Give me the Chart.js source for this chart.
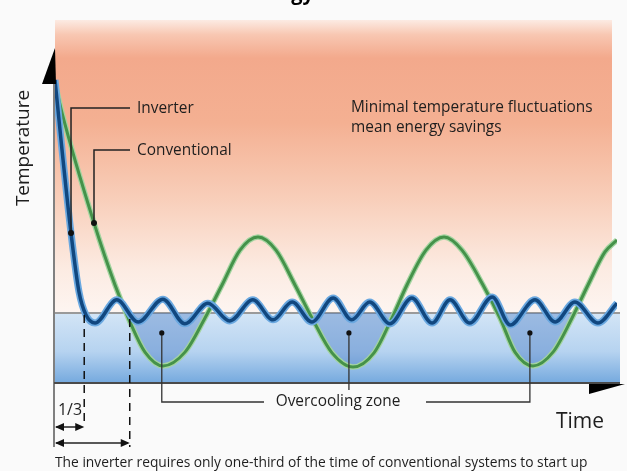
<!DOCTYPE html>
<html>
<head>
<meta charset="utf-8">
<script src="https://cdn.jsdelivr.net/npm/chart.js@4.4.1/dist/chart.umd.min.js"></script>
<style>
  html, body { margin: 0; padding: 0; background: #fafafa; }
  #wrap { width: 627px; height: 471px; position: relative; }
</style>
</head>
<body>
<div id="wrap"><canvas id="chart"></canvas></div>
<script>
// inverter (blue) - quick drop, then small ripple around the set point
const invTime = [0, 1.25, 2.85, 4.27, 5.52, 7.12, 11.0, 14.8, 19.2, 23.1, 27.2, 31.1, 35.2, 38.8, 42.2, 45.7,
  49.5, 52.8, 56.0, 59.6, 63.5, 67.1, 70.3, 73.8, 77.8, 81.0, 85.4, 89.0, 92.5, 96.6, 100];
const invTemp = [83.5, 64.2, 41.3, 25.1, 18.7, 16.5, 22.9, 16.8, 23.1, 16.3, 22.0, 17.1, 22.9, 17.4, 22.3, 16.8,
  23.4, 17.4, 22.3, 16.3, 23.4, 16.5, 22.9, 16.5, 23.7, 16.0, 22.9, 16.8, 22.3, 16.5, 22.0];

// conventional (green) - slow drop, big swings
const convTime = [0, 1.25, 6.94, 10.68, 13.35, 16.01, 19.22, 23.13, 26.69, 29.72, 32.92, 36.12, 39.32, 42.70,
  45.73, 49.29, 53.02, 56.76, 59.96, 62.63, 66.01, 69.22, 72.42, 76.16, 79.18, 81.85, 85.05, 88.61, 92.0,
  94.84, 97.86, 100];
const convTemp = [82.9, 74.4, 44.1, 27.0, 16.8, 8.5, 4.7, 8.5, 17.9, 27.0, 36.6, 40.2, 36.6, 27.0,
  17.9, 8.3, 4.4, 8.3, 17.9, 27.0, 36.6, 40.2, 36.6, 27.0, 17.9, 8.5, 4.7, 8.5, 17.9,
  27.0, 36.1, 39.4];

const setPoint = 19.3;
const startInv = 5.2;    // inverter reaches set point
const startConv = 13.3;  // conventional reaches set point
const overcoolTime = [19.0, 52.3, 84.5];
const overcoolTemp = 13.8;

const titleText = 'Inverter Technology';
const yTitle = 'Temperature';
const xTitle = 'Time';
const invLabel = 'Inverter';
const convLabel = 'Conventional';
const noteLines = ['Minimal temperature fluctuations', 'mean energy savings'];
const zoneLabel = 'Overcooling zone';
const ratioLabel = '1/3';
const caption = 'The inverter requires only one-third of the time of conventional systems to start up';

const FONT = '"Open Sans", "DejaVu Sans", sans-serif';

const invPts = invTime.map((t, i) => ({ x: t, y: invTemp[i] }));
const convPts = convTime.map((t, i) => ({ x: t, y: convTemp[i] }));

function arrowHead(ctx, x, y, dir) {
  ctx.beginPath();
  ctx.moveTo(x, y);
  ctx.lineTo(x - dir * 9, y - 4);
  ctx.lineTo(x - dir * 9, y + 4);
  ctx.closePath();
  ctx.fill();
}

const decor = {
  id: 'decor',
  beforeDatasetsDraw(chart) {
    const { ctx, chartArea: a, scales: { x, y } } = chart;
    const sy = y.getPixelForValue(setPoint);
    ctx.save();
    // warm zone
    let g = ctx.createLinearGradient(0, a.top, 0, sy);
    g.addColorStop(0, '#fcebe3');
    g.addColorStop(0.05, '#f8c7b2');
    g.addColorStop(0.13, '#f3a98c');
    g.addColorStop(0.35, '#f4b092');
    g.addColorStop(0.6, '#f8cdb8');
    g.addColorStop(0.85, '#fcebe2');
    g.addColorStop(1, '#fdf5f1');
    ctx.fillStyle = g;
    ctx.fillRect(a.left, a.top, a.right - a.left - 5, sy - a.top);
    // cool zone
    g = ctx.createLinearGradient(0, sy, 0, a.bottom);
    g.addColorStop(0, '#d3e5f6');
    g.addColorStop(0.55, '#b6d3f0');
    g.addColorStop(1, '#75a9de');
    ctx.fillStyle = g;
    ctx.fillRect(a.left, sy, a.right - a.left + 3, a.bottom - sy);
    // set point line
    ctx.strokeStyle = '#9a9a9a';
    ctx.lineWidth = 2;
    ctx.beginPath();
    ctx.moveTo(a.left, sy);
    ctx.lineTo(a.right + 3, sy);
    ctx.stroke();
    ctx.restore();
  },
  afterDatasetsDraw(chart) {
    const { ctx, chartArea: a, scales: { x, y } } = chart;
    const ax = a.left - 1;
    ctx.save();

    // axes
    ctx.strokeStyle = '#808080';
    ctx.lineWidth = 2;
    ctx.beginPath();
    ctx.moveTo(ax, a.top + 60);
    ctx.lineTo(ax, a.bottom + 64);
    ctx.stroke();
    ctx.strokeStyle = '#4a4a4a';
    ctx.beginPath();
    ctx.moveTo(ax, a.bottom);
    ctx.lineTo(a.right + 3, a.bottom);
    ctx.stroke();
    ctx.fillStyle = '#000';
    ctx.beginPath();
    ctx.moveTo(ax + 1, a.top + 28);
    ctx.lineTo(ax + 2, a.top + 64);
    ctx.lineTo(ax - 12, a.top + 64);
    ctx.closePath();
    ctx.fill();
    ctx.beginPath();
    ctx.moveTo(a.right - 28, a.bottom + 1);
    ctx.lineTo(a.right + 8, a.bottom + 1);
    ctx.lineTo(a.right - 28, a.bottom + 11);
    ctx.closePath();
    ctx.fill();

    // start-up dashed lines
    const xi = x.getPixelForValue(startInv);
    const xc = x.getPixelForValue(startConv);
    ctx.strokeStyle = '#111';
    ctx.lineWidth = 1.5;
    ctx.setLineDash([8, 6]);
    ctx.beginPath();
    ctx.moveTo(xi, y.getPixelForValue(setPoint) + 2);
    ctx.lineTo(xi, a.bottom + 38);
    ctx.moveTo(xc, y.getPixelForValue(setPoint) + 6);
    ctx.lineTo(xc, a.bottom + 64);
    ctx.stroke();
    ctx.setLineDash([]);

    // dimension arrows
    ctx.strokeStyle = '#222';
    ctx.fillStyle = '#111';
    [[xi, a.bottom + 44], [xc, a.bottom + 60]].forEach(([xe, yy]) => {
      ctx.beginPath();
      ctx.moveTo(ax + 2, yy);
      ctx.lineTo(xe - 2, yy);
      ctx.stroke();
      arrowHead(ctx, ax + 1, yy, -1);
      arrowHead(ctx, xe, yy, 1);
    });

    // leader lines to the curves
    const invDot = chart.getDatasetMeta(0).data[2];
    const convDot = chart.getDatasetMeta(2).data[2];
    ctx.strokeStyle = '#222';
    ctx.lineWidth = 1.5;
    ctx.beginPath();
    ctx.moveTo(invDot.x, invDot.y);
    ctx.lineTo(invDot.x, 108);
    ctx.lineTo(130, 108);
    ctx.moveTo(convDot.x, convDot.y);
    ctx.lineTo(convDot.x, 150);
    ctx.lineTo(130, 150);
    ctx.stroke();
    ctx.fillStyle = '#111';
    [invDot, convDot].forEach(p => {
      ctx.beginPath();
      ctx.arc(p.x, p.y, 3, 0, Math.PI * 2);
      ctx.fill();
    });

    // overcooling zone leaders
    const oy = y.getPixelForValue(overcoolTemp);
    const ox = overcoolTime.map(t => x.getPixelForValue(t));
    const ly = a.bottom + 19;
    ctx.strokeStyle = '#333';
    ctx.lineWidth = 1.3;
    ctx.beginPath();
    ctx.moveTo(ox[0], oy); ctx.lineTo(ox[0], ly); ctx.lineTo(264, ly);
    ctx.moveTo(ox[1], oy); ctx.lineTo(ox[1], ly - 12);
    ctx.moveTo(ox[2], oy); ctx.lineTo(ox[2], ly); ctx.lineTo(426, ly);
    ctx.stroke();
    ox.forEach(px => {
      ctx.beginPath();
      ctx.arc(px, oy, 2.6, 0, Math.PI * 2);
      ctx.fill();
    });

    // texts
    ctx.fillStyle = '#1e1e1e';
    ctx.textBaseline = 'middle';
    ctx.textAlign = 'left';
    ctx.font = '15.4px ' + FONT;
    ctx.fillText(invLabel, 137, 109);
    ctx.fillText(convLabel, 137, 151);
    ctx.fillText(noteLines[0], 351, 108);
    ctx.fillText(noteLines[1], 351, 128);
    ctx.textAlign = 'center';
    ctx.fillText(zoneLabel, 338, ly);
    ctx.font = '16px ' + FONT;
    ctx.fillText(ratioLabel, 70, 410);
    ctx.font = '21px ' + FONT;
    ctx.fillText(xTitle, 580, 422);
    ctx.textAlign = 'left';
    ctx.font = '13.8px ' + FONT;
    ctx.fillText(caption, 55, 463);
    ctx.save();
    ctx.translate(24, 148);
    ctx.rotate(-Math.PI / 2);
    ctx.textAlign = 'center';
    ctx.font = '19px ' + FONT;
    ctx.fillText(yTitle, 0, 0);
    ctx.restore();

    // title, cut off at the top edge
    ctx.textAlign = 'right';
    ctx.textBaseline = 'alphabetic';
    ctx.fillStyle = '#000';
    ctx.font = 'bold 20px ' + FONT;
    ctx.fillText(titleText, 314, 0);

    ctx.restore();
  }
};

new Chart(document.getElementById('chart'), {
  type: 'line',
  data: {
    datasets: [
      { label: 'Inverter', data: invPts, borderColor: '#11477f', borderWidth: 3.5, order: 0,
        pointRadius: 0, cubicInterpolationMode: 'monotone', fill: false },
      { label: 'Inverter glow', data: invPts, borderColor: '#6aa8e0', borderWidth: 7, order: 1,
        pointRadius: 0, cubicInterpolationMode: 'monotone', fill: false },
      { label: 'Conventional', data: convPts, borderColor: '#45924a', borderWidth: 3, order: 2,
        pointRadius: 0, cubicInterpolationMode: 'monotone', fill: false },
      { label: 'Conventional glow', data: convPts, borderColor: '#a3d4a0', borderWidth: 5.5, order: 3,
        pointRadius: 0, cubicInterpolationMode: 'monotone',
        fill: { target: { value: setPoint }, above: 'rgba(0,0,0,0)', below: 'rgba(55,110,190,0.35)' } },
    ],
  },
  options: {
    responsive: true,
    maintainAspectRatio: false,
    animation: false,
    layout: { padding: { left: 55, right: 10, top: 20, bottom: 88 } },
    plugins: {
      legend: { display: false },
      tooltip: { enabled: false },
    },
    scales: {
      x: { type: 'linear', min: 0, max: 100, display: false },
      y: { type: 'linear', min: 0, max: 100, display: false },
    },
  },
  plugins: [decor],
});
</script>
</body>
</html>
